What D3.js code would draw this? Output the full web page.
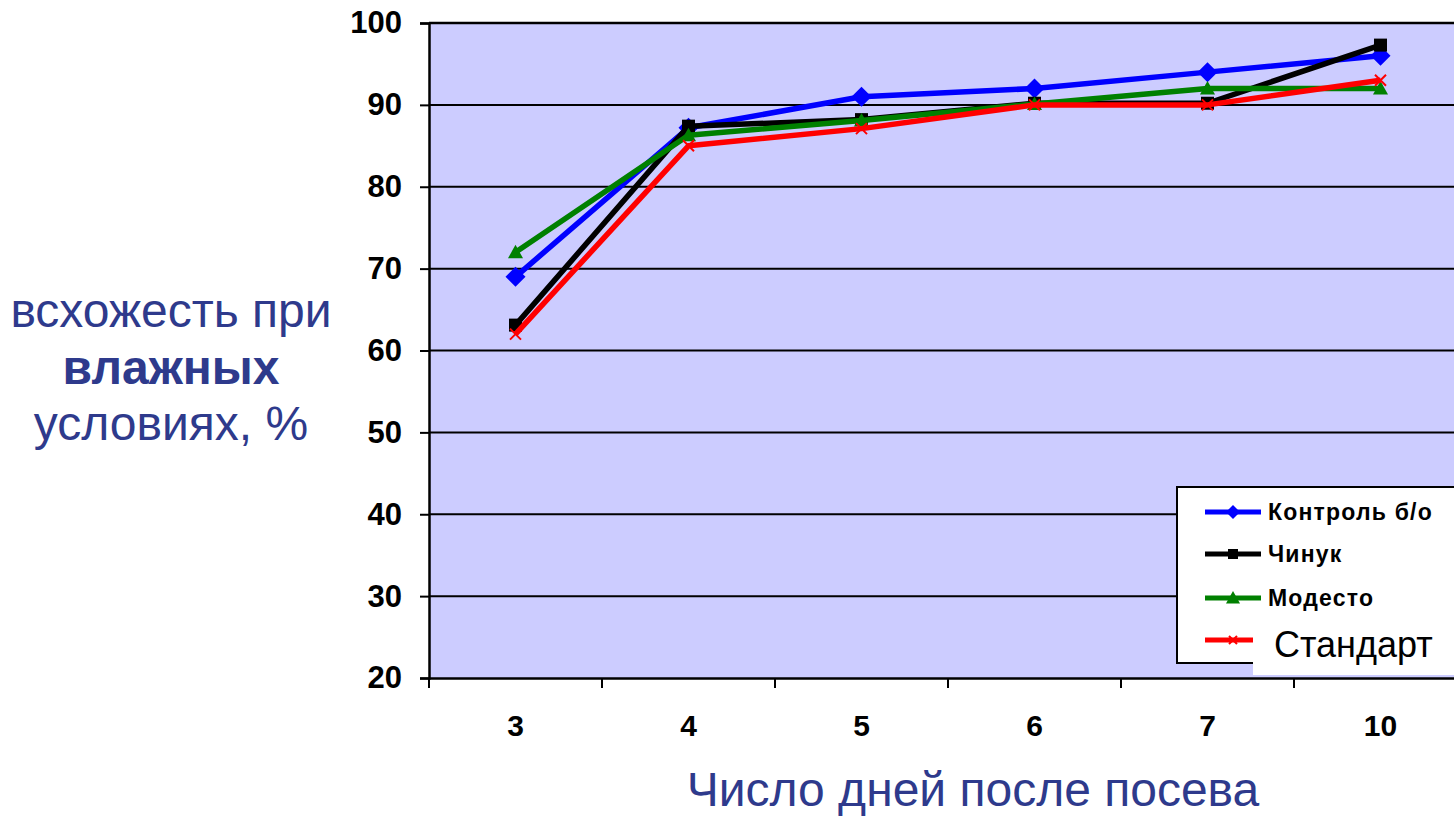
<!DOCTYPE html>
<html><head><meta charset="utf-8">
<script src="https://cdn.jsdelivr.net/npm/d3@7"></script>
<style>html,body{margin:0;padding:0;background:#fff;overflow:hidden}</style>
</head><body>
<svg id="c" width="1454" height="816"></svg>
<script>
const categories = ["3","4","5","6","7","10"];
const yTicks = [20,30,40,50,60,70,80,90,100];
const control = [69, 87.2, 91, 92, 94, 96];
const chinuk = [63.1, 87.4, 88.2, 90.2, 90.2, 97.3];
const modesto = [72, 86.3, 88.1, 90.1, 92, 92];
const standard = [62, 85, 87.1, 90, 90, 93];
const seriesNames = ["Контроль б/о","Чинук","Модесто","Стандарт"];

const series = [
  {name: seriesNames[0], values: control, color: "#0000FF", marker: "diamond"},
  {name: seriesNames[1], values: chinuk, color: "#000000", marker: "square"},
  {name: seriesNames[2], values: modesto, color: "#008000", marker: "triangle"},
  {name: seriesNames[3], values: standard, color: "#FF0000", marker: "x"}
];

const svg = d3.select("#c");
const L = 429, R = 1467, T = 23, B = 678;
const x = d3.scaleBand().domain(categories).range([L, R]);
const y = d3.scaleLinear().domain([20, 100]).range([B, T]);
const font = "'Liberation Sans', Arial, sans-serif";
const titleColor = "#2E3A8C";

svg.append("rect").attr("x", L).attr("y", T).attr("width", R - L).attr("height", B - T).attr("fill", "#CCCCFF");

// gridlines
svg.append("g").selectAll("line").data(yTicks.filter(d => d > 20)).join("line")
  .attr("x1", L).attr("x2", R).attr("y1", d => y(d)).attr("y2", d => y(d))
  .attr("stroke", "#000").attr("stroke-width", 2);

// y axis
const yAxis = svg.append("g").attr("transform", `translate(${L},0)`)
  .call(d3.axisLeft(y).tickValues(yTicks).tickSize(9).tickPadding(18).tickFormat(d3.format("d")));
yAxis.select(".domain").attr("stroke", "#000").attr("stroke-width", 2.5);
yAxis.selectAll(".tick line").attr("stroke-width", 2);
yAxis.selectAll("text").attr("font-family", font).attr("font-size", 31).attr("font-weight", "bold").attr("fill", "#000");

// x axis
const xAxis = svg.append("g").attr("transform", `translate(0,${B})`)
  .call(d3.axisBottom(x).tickSize(0).tickPadding(37));
xAxis.select(".domain").attr("stroke", "#000").attr("stroke-width", 2.5);
xAxis.selectAll("text").attr("font-family", font).attr("font-size", 30).attr("font-weight", "bold").attr("fill", "#000");
// category boundary ticks
const bounds = categories.map(c => x(c));
svg.append("g").selectAll("line").data(bounds).join("line")
  .attr("x1", d => d).attr("x2", d => d).attr("y1", B).attr("y2", B + 10)
  .attr("stroke", "#000").attr("stroke-width", 2);

const cx = c => x(c) + x.bandwidth() / 2;
const line = d3.line().x((d, i) => cx(categories[i])).y(d => y(d));

function marker(g, type, color, px, py, s) {
  if (type === "diamond") {
    g.append("path").attr("d", `M${px},${py - s}L${px + s},${py}L${px},${py + s}L${px - s},${py}Z`).attr("fill", color);
  } else if (type === "square") {
    g.append("rect").attr("x", px - s).attr("y", py - s).attr("width", 2 * s).attr("height", 2 * s).attr("fill", color);
  } else if (type === "triangle") {
    g.append("path").attr("d", `M${px},${py - s}L${px + s},${py + s * 0.8}L${px - s},${py + s * 0.8}Z`).attr("fill", color);
  } else if (type === "x") {
    g.append("path").attr("d", `M${px - s},${py - s}L${px + s},${py + s}M${px + s},${py - s}L${px - s},${py + s}`)
      .attr("stroke", color).attr("stroke-width", 2).attr("fill", "none");
  }
}
const mSize = {diamond: 10, square: 6.5, triangle: 7.5, x: 5.5};

const plot = svg.append("g");
series.forEach(s => {
  const g = plot.append("g");
  g.append("path").attr("d", line(s.values)).attr("fill", "none").attr("stroke", s.color)
    .attr("stroke-width", 5.5).attr("stroke-linejoin", "round");
  s.values.forEach((v, i) => marker(g, s.marker, s.color, cx(categories[i]), y(v), mSize[s.marker]));
});

// top border
svg.append("line").attr("x1", L).attr("x2", R).attr("y1", T).attr("y2", T).attr("stroke", "#000").attr("stroke-width", 2.5);

// legend
const lg = svg.append("g");
lg.append("rect").attr("x", 1177).attr("y", 487).attr("width", 300).attr("height", 176)
  .attr("fill", "#fff").attr("stroke", "#000").attr("stroke-width", 2);
const legY = [512, 554, 598, 640];
const lSize = {diamond: 7, square: 5, triangle: 7, x: 4};
series.forEach((s, i) => {
  lg.append("line").attr("x1", 1205).attr("x2", 1261).attr("y1", legY[i]).attr("y2", legY[i])
    .attr("stroke", s.color).attr("stroke-width", 5);
  marker(lg, s.marker, s.color, 1233, legY[i], lSize[s.marker]);
  if (i < 3) {
    lg.append("text").attr("x", 1268).attr("y", legY[i] + 8).text(s.name)
      .attr("font-family", font).attr("font-size", 23).attr("letter-spacing", 1.2)
      .attr("font-weight", "bold").attr("fill", "#000");
  } else {
    lg.append("rect").attr("x", 1253).attr("y", 620).attr("width", 210).attr("height", 55).attr("fill", "#fff");
    lg.append("text").attr("x", 1274).attr("y", 657).text(s.name)
      .attr("font-family", font).attr("font-size", 36).attr("fill", "#000");
  }
});

// y title
const yt = svg.append("text").attr("text-anchor", "middle").attr("font-family", font).attr("fill", titleColor).attr("font-size", 48);
yt.append("tspan").attr("x", 171).attr("y", 327).text("всхожесть при");
yt.append("tspan").attr("x", 171).attr("y", 384).attr("font-weight", "bold").text("влажных");
yt.append("tspan").attr("x", 171).attr("y", 440).text("условиях, %");

// x title
svg.append("text").attr("x", 973).attr("y", 806).attr("text-anchor", "middle")
  .attr("font-family", font).attr("font-size", 48).attr("fill", titleColor).text("Число дней после посева");
</script>
</body></html>
